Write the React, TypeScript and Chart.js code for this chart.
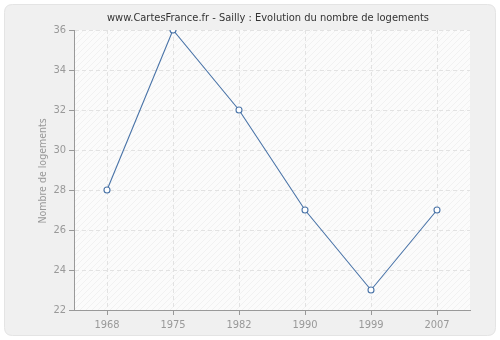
import React, { useEffect, useRef } from "react";
import { Chart, registerables } from "chart.js";

Chart.register(...registerables);

const categories = ["1968", "1975", "1982", "1990", "1999", "2007"];
const logements = [28, 36, 32, 27, 23, 27];
const yTicks = [22, 24, 26, 28, 30, 32, 34, 36];
const titleText = "www.CartesFrance.fr - Sailly : Evolution du nombre de logements";
const yTitle = "Nombre de logements";

const FONT = "'DejaVu Sans Condensed', 'DejaVu Sans', sans-serif";

function makeHatch(ctx: CanvasRenderingContext2D) {
  const c = document.createElement("canvas");
  c.width = 6;
  c.height = 6;
  const g = c.getContext("2d")!;
  g.fillStyle = "#fbfbfb";
  g.fillRect(0, 0, 6, 6);
  g.strokeStyle = "#f1f1f1";
  g.lineWidth = 1;
  g.beginPath();
  g.moveTo(0, 6);
  g.lineTo(6, 0);
  g.moveTo(-1, 1);
  g.lineTo(1, -1);
  g.moveTo(5, 7);
  g.lineTo(7, 5);
  g.stroke();
  return ctx.createPattern(c, "repeat");
}

const bgPlugin = {
  id: "bgPlugin",
  beforeDraw(chart: any) {
    const { ctx, chartArea } = chart;
    ctx.save();
    ctx.fillStyle = "#ffffff";
    ctx.fillRect(0, 0, chart.width, chart.height);
    const r = 8;
    const x = 4.5, y = 4.5, w = 491, h = 331;
    ctx.beginPath();
    ctx.moveTo(x + r, y);
    ctx.lineTo(x + w - r, y);
    ctx.quadraticCurveTo(x + w, y, x + w, y + r);
    ctx.lineTo(x + w, y + h - r);
    ctx.quadraticCurveTo(x + w, y + h, x + w - r, y + h);
    ctx.lineTo(x + r, y + h);
    ctx.quadraticCurveTo(x, y + h, x, y + h - r);
    ctx.lineTo(x, y + r);
    ctx.quadraticCurveTo(x, y, x + r, y);
    ctx.closePath();
    ctx.fillStyle = "#f0f0f0";
    ctx.fill();
    ctx.strokeStyle = "#e4e4e4";
    ctx.lineWidth = 1;
    ctx.stroke();
    const pat = makeHatch(ctx);
    ctx.fillStyle = pat || "#fafafa";
    ctx.fillRect(chartArea.left, chartArea.top, chartArea.right - chartArea.left, chartArea.bottom - chartArea.top);
    ctx.fillStyle = "#333333";
    ctx.font = `11px ${FONT}`;
    ctx.textAlign = "center";
    ctx.textBaseline = "middle";
    ctx.fillText(titleText, 268, 18);
    ctx.translate(43, (chartArea.top + chartArea.bottom) / 2 + 1);
    ctx.rotate(-Math.PI / 2);
    ctx.fillStyle = "#999999";
    ctx.font = `10.5px ${FONT}`;
    ctx.fillText(yTitle, 0, 0);
    ctx.restore();
  },
};

export default function App() {
  const ref = useRef<HTMLCanvasElement>(null);
  useEffect(() => {
    document.body.style.margin = "0";
    const chart = new Chart(ref.current!, {
      type: "line",
      data: {
        labels: categories,
        datasets: [
          {
            data: logements,
            borderColor: "#4a74a8",
            borderWidth: 1.1,
            pointBackgroundColor: "#ffffff",
            pointBorderColor: "#4a74a8",
            pointBorderWidth: 1.1,
            pointRadius: 3,
            tension: 0,
          },
        ],
      },
      options: {
        animation: false,
        responsive: false,
        devicePixelRatio: 1,
        layout: { padding: { left: 0, right: 30, top: 30, bottom: 0 } },
        plugins: { legend: { display: false }, title: { display: false }, tooltip: { enabled: false } },
        scales: {
          x: {
            type: "category",
            offset: true,
            afterFit: (s: any) => { s.height = 30; },
            grid: {
              display: true,
              offset: false,
              color: "#e2e2e2",
              tickColor: "#999999",
              tickLength: 5,
            },
            border: { display: true, color: "#999999", dash: [4, 3] as any },
            ticks: { color: "#999999", font: { family: FONT, size: 11 }, padding: 4, maxRotation: 0 },
          },
          y: {
            min: 22,
            max: 36,
            afterFit: (s: any) => { s.width = 74; },
            afterBuildTicks: (s: any) => { s.ticks = yTicks.map((v) => ({ value: v })); },
            grid: { color: "#e2e2e2", tickColor: "#999999", tickLength: 5 },
            border: { display: true, color: "#999999", dash: [4, 3] as any },
            ticks: { color: "#999999", font: { family: FONT, size: 11 }, padding: 3 },
          },
        },
      },
      plugins: [bgPlugin],
    });
    return () => chart.destroy();
  }, []);
  return <canvas ref={ref} width={500} height={340} style={{ display: "block" }} />;
}
